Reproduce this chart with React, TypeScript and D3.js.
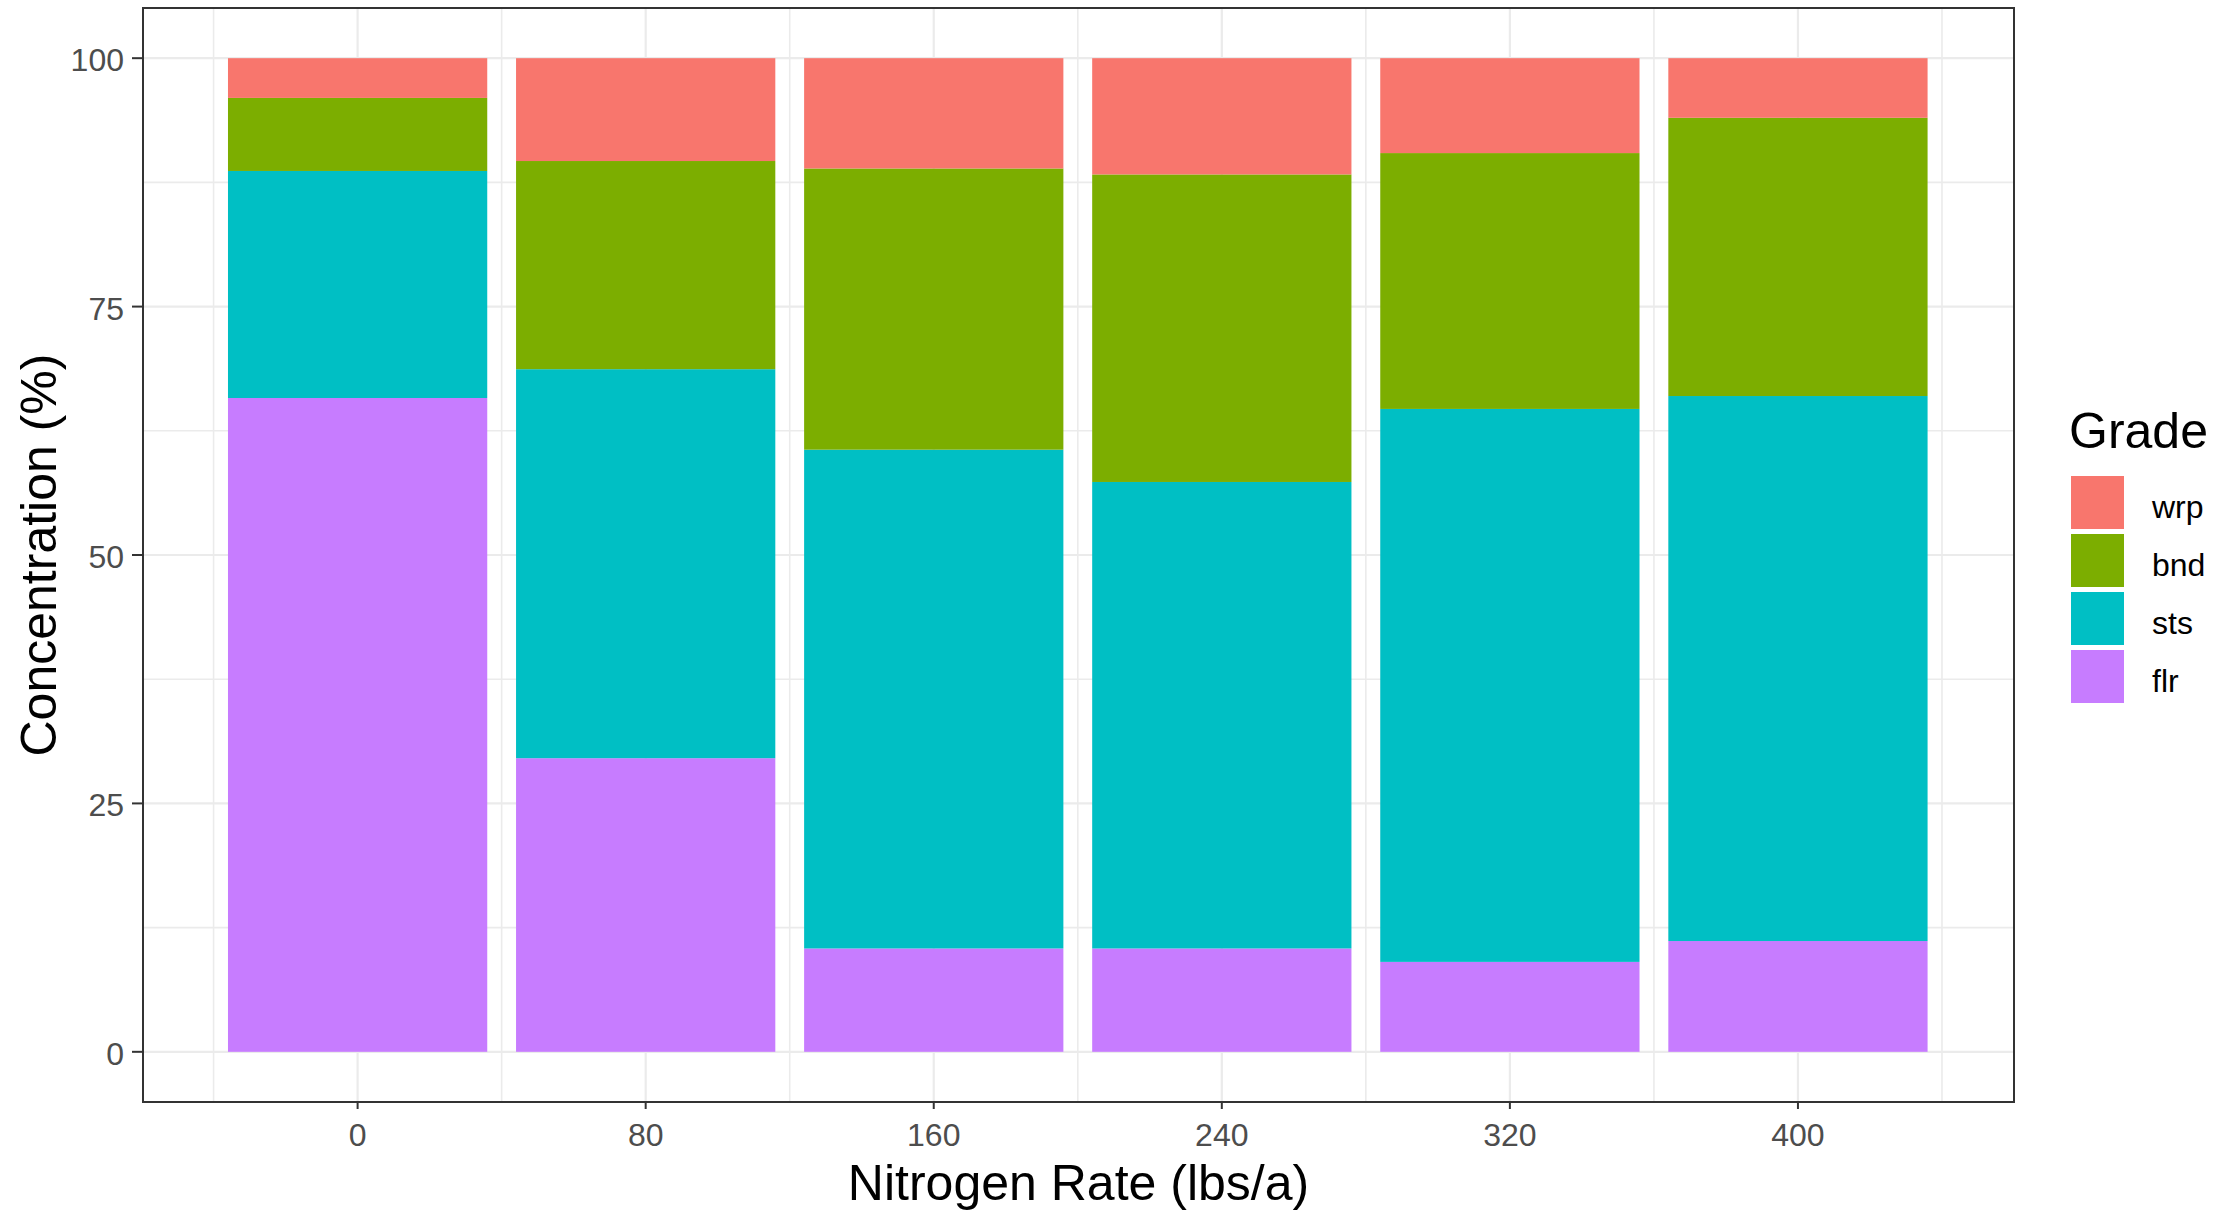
import React from "react";
import * as d3 from "d3";

const rates = [0, 80, 160, 240, 320, 400];
const grades = ["wrp", "bnd", "sts", "flr"];
const stackOrder = ["flr", "sts", "bnd", "wrp"];
const flr = [65.8, 29.55, 10.4, 10.4, 9.05, 11.15];
const sts = [22.85, 39.15, 50.2, 46.95, 55.65, 54.85];
const bnd = [7.35, 20.95, 28.3, 30.95, 25.75, 28.0];
const wrp = [4.0, 10.35, 11.1, 11.7, 9.55, 6.0];
const colors: Record<string, string> = { wrp: "#F8766D", bnd: "#7CAE00", sts: "#00BFC4", flr: "#C77CFF" };
const yTicks = [0, 25, 50, 75, 100];
const yMinor = [12.5, 37.5, 62.5, 87.5];
const xMinor = [-40, 40, 120, 200, 280, 360, 440];

const W = 2238, H = 1212;
const P = { l: 143, r: 2014, t: 8, b: 1102 };
const FONT = "'Liberation Sans', Arial, sans-serif";

export default function App() {
  const rows = rates.map((r, i) => ({ rate: r, flr: flr[i], sts: sts[i], bnd: bnd[i], wrp: wrp[i] }));
  const series = d3.stack<any>().keys(stackOrder)(rows);
  const x = d3.scaleLinear().domain([-59.6, 460.0]).range([P.l, P.r]);
  const y = d3.scaleLinear().domain([-5, 105]).range([P.b - 0.5, P.t + 0.5]);
  const bw = x(72) - x(0);

  return (
    <svg width={W} height={H} style={{ position: "absolute", left: 0, top: 0, background: "#fff" }} fontFamily={FONT}>
      <rect x={0} y={0} width={W} height={H} fill="#fff" />
      <g>
        {yMinor.map((v) => (
          <line key={"ym" + v} x1={P.l} x2={P.r} y1={y(v)} y2={y(v)} stroke="#EBEBEB" strokeWidth={1.6} />
        ))}
        {xMinor.map((v) => (
          <line key={"xm" + v} x1={x(v)} x2={x(v)} y1={P.t} y2={P.b} stroke="#EBEBEB" strokeWidth={1.6} />
        ))}
        {yTicks.map((v) => (
          <line key={"yg" + v} x1={P.l} x2={P.r} y1={y(v)} y2={y(v)} stroke="#EBEBEB" strokeWidth={2.2} />
        ))}
        {rates.map((v) => (
          <line key={"xg" + v} x1={x(v)} x2={x(v)} y1={P.t} y2={P.b} stroke="#EBEBEB" strokeWidth={2.2} />
        ))}
      </g>
      <g>
        {series.map((s) => (
          <g key={s.key} fill={colors[s.key]}>
            {s.map((d, i) => (
              <rect
                key={i}
                x={x(rates[i]) - bw / 2}
                width={bw}
                y={y(d[1])}
                height={y(d[0]) - y(d[1])}
              />
            ))}
          </g>
        ))}
      </g>
      <rect x={P.l} y={P.t} width={P.r - P.l} height={P.b - P.t} fill="none" stroke="#333333" strokeWidth={2} />
      <g>
        {yTicks.map((v) => (
          <g key={"yt" + v}>
            <line x1={P.l - 11} x2={P.l} y1={y(v)} y2={y(v)} stroke="#333333" strokeWidth={2} />
            <text x={P.l - 19} y={y(v) + 13} textAnchor="end" fontSize={32} fill="#4D4D4D">{v}</text>
          </g>
        ))}
        {rates.map((v) => (
          <g key={"xt" + v}>
            <line x1={x(v)} x2={x(v)} y1={P.b} y2={P.b + 7} stroke="#333333" strokeWidth={2} />
            <text x={x(v)} y={1146} textAnchor="middle" fontSize={32} fill="#4D4D4D">{v}</text>
          </g>
        ))}
      </g>
      <text x={(P.l + P.r) / 2} y={1200} textAnchor="middle" fontSize={50} fill="#000">Nitrogen Rate (lbs/a)</text>
      <text transform={`translate(56, ${(P.t + P.b) / 2}) rotate(-90)`} textAnchor="middle" fontSize={50} fill="#000">Concentration (%)</text>
      <g>
        <text x={2069} y={448} fontSize={50} fill="#000">Grade</text>
        {grades.map((g, i) => (
          <g key={g}>
            <rect x={2071} y={476 + i * 58} width={53} height={53} fill={colors[g]} />
            <text x={2152} y={476 + i * 58 + 26.5 + 15} fontSize={32} fill="#000">{g}</text>
          </g>
        ))}
      </g>
    </svg>
  );
}
